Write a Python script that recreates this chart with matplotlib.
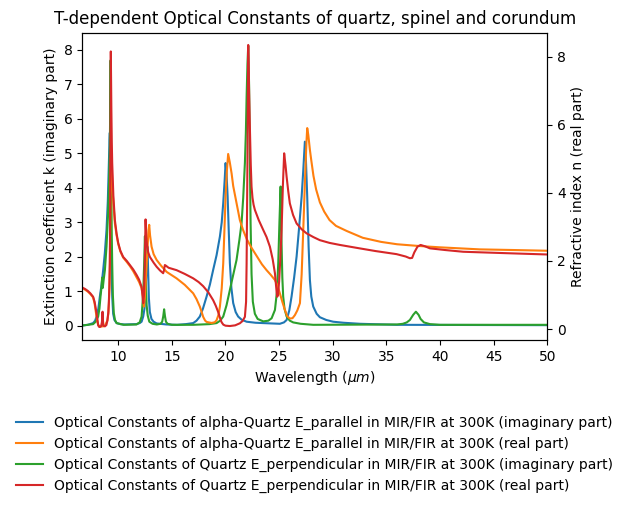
import numpy as np
import matplotlib
matplotlib.use('Agg')
import matplotlib.pyplot as plt

# alpha-Quartz E_parallel, imaginary part k
wl_k_par = [6.65, 7.17, 7.66, 7.85, 7.98, 8.15, 8.29, 8.45, 8.60, 8.75, 8.91, 9.03,
            9.13, 9.19, 9.22, 9.26, 9.30, 9.34, 9.38, 9.45, 9.53, 9.65, 9.85, 10.20,
            10.62, 11.71, 12.00, 12.18, 12.33, 12.45, 12.55, 12.65, 12.73, 12.79, 12.86,
            12.95, 13.10, 13.30, 13.58, 14.50, 15.50, 16.30, 16.99, 17.30, 17.61, 17.90,
            18.24, 18.55, 18.85, 19.17, 19.48, 19.65, 19.79, 19.92, 20.01, 20.10, 20.20,
            20.30, 20.41, 20.55, 20.72, 20.95, 21.18, 21.50, 21.97, 22.80, 23.52, 24.30,
            25.07, 25.45, 25.70, 25.95, 26.16, 26.40, 26.63, 26.85, 27.10, 27.25, 27.40,
            27.50, 27.62, 27.75, 27.87, 28.00, 28.18, 28.50, 28.80, 29.40, 30.04, 31.00,
            32.53, 35.95, 50.0]
k_par = [0.01, 0.03, 0.08, 0.15, 0.27, 0.50, 0.85, 1.20, 1.62, 2.10, 2.78, 3.60,
         4.72, 5.40, 5.60, 4.80, 3.20, 2.30, 1.60, 0.80, 0.35, 0.17, 0.08, 0.05,
         0.04, 0.05, 0.08, 0.12, 0.27, 0.50, 1.00, 1.80, 2.30, 1.60, 0.80,
         0.40, 0.20, 0.12, 0.07, 0.04, 0.03, 0.05, 0.08, 0.15, 0.27, 0.50,
         0.85, 1.20, 1.62, 2.05, 2.59, 3.00, 3.56, 4.20, 4.72, 4.40, 3.75,
         2.80, 1.82, 1.10, 0.66, 0.40, 0.27, 0.18, 0.12, 0.09, 0.08, 0.07,
         0.06, 0.10, 0.17, 0.45, 0.85, 1.40, 2.01, 2.80, 3.75, 4.50, 5.34,
         4.80, 3.75, 2.30, 1.33, 0.85, 0.56, 0.35, 0.25, 0.17, 0.12, 0.09,
         0.06, 0.03, 0.02]

# alpha-Quartz E_parallel, real part n
wl_n_par = [6.65, 6.90, 7.17, 7.40, 7.66, 7.80, 7.98, 8.13, 8.29, 8.60, 8.76, 8.99,
            9.08, 9.13, 9.18, 9.22, 9.27, 9.31, 9.36, 9.40, 9.44, 9.55, 9.69, 9.85,
            10.00, 10.20, 10.46, 10.80, 11.09, 11.40, 11.71, 11.95, 12.18, 12.30, 12.39,
            12.48, 12.60, 12.72, 12.82, 12.89, 12.97, 13.11, 13.30, 13.58, 14.00, 14.51,
            15.00, 15.44, 16.20, 16.99, 17.30, 17.61, 17.80, 17.92, 18.10, 18.24, 18.70,
            19.00, 19.17, 19.35, 19.48, 19.65, 19.79, 19.90, 20.01, 20.12, 20.25, 20.40,
            20.57, 20.72, 21.03, 21.34, 21.65, 21.97, 22.40, 22.90, 23.40, 23.83, 24.20,
            24.61, 24.85, 25.07, 25.30, 25.54, 25.75, 26.00, 26.25, 26.47, 26.70, 26.94,
            27.10, 27.25, 27.37, 27.47, 27.55, 27.62, 27.72, 27.87, 28.00, 28.20, 28.45,
            28.80, 29.20, 29.70, 30.30, 31.30, 32.80, 34.50, 36.00, 38.00, 40.00, 43.70,
            47.00, 50.0]
n_par = [1.20, 1.16, 1.10, 1.03, 0.93, 0.75, 0.36, 0.12, 0.08, 0.08, 0.10, 0.25,
         0.45, 0.75, 1.20, 1.90, 3.50, 5.00, 5.20, 4.80, 4.30, 3.70, 3.10, 2.75,
         2.50, 2.28, 2.10, 1.97, 1.85, 1.70, 1.52, 1.38, 1.20, 0.95, 0.66,
         0.90, 1.60, 2.30, 2.90, 3.06, 2.75, 2.42, 2.20, 2.03, 1.86, 1.68,
         1.58, 1.49, 1.30, 1.05, 0.88, 0.66, 0.48, 0.36, 0.25, 0.21, 0.18,
         0.20, 0.26, 0.42, 0.66, 1.20, 1.93, 2.90, 3.89, 4.60, 5.14, 4.90,
         4.57, 4.20, 3.70, 3.20, 2.90, 2.65, 2.40, 2.15, 1.90, 1.73, 1.60,
         1.44, 1.28, 1.05, 0.80, 0.56, 0.38, 0.31, 0.32, 0.41, 0.55, 0.76,
         1.60, 2.91, 4.00, 4.87, 5.50, 5.90, 5.70, 5.26, 4.95, 4.50, 4.10,
         3.72, 3.45, 3.20, 3.03, 2.88, 2.68, 2.56, 2.49, 2.44, 2.40, 2.34,
         2.32, 2.30]

# Quartz E_perpendicular, imaginary part k
wl_k_perp = [6.65, 7.66, 7.90, 8.13, 8.25, 8.35, 8.45, 8.50, 8.53, 8.56, 8.65, 8.76,
             8.91, 9.06, 9.15, 9.22, 9.26, 9.29, 9.32, 9.36, 9.40, 9.44, 9.50, 9.59,
             9.70, 9.85, 10.50, 11.70, 12.00, 12.18, 12.27, 12.35, 12.42, 12.49, 12.53,
             12.58, 12.65, 12.75, 12.90, 13.20, 13.60, 13.95, 14.10, 14.20, 14.28, 14.36,
             14.45, 14.60, 15.00, 17.00, 18.50, 19.17, 19.50, 19.79, 20.10, 20.41, 20.70,
             21.03, 21.30, 21.50, 21.65, 21.81, 21.90, 21.97, 22.05, 22.12, 22.20, 22.27,
             22.34, 22.43, 22.55, 22.74, 23.00, 23.52, 24.00, 24.30, 24.61, 24.80, 24.92,
             25.03, 25.14, 25.22, 25.30, 25.38, 25.50, 25.70, 26.00, 26.31, 27.00, 28.18,
             36.00, 36.54, 36.90, 37.19, 37.50, 37.75, 38.00, 38.19, 38.50, 39.06, 40.00,
             50.0]
k_perp = [0.01, 0.05, 0.12, 0.27, 0.50, 0.85, 1.14, 1.40, 1.38, 1.10, 1.35, 1.62,
          2.30, 3.27, 4.20, 5.20, 6.50, 7.70, 6.00, 4.00, 2.60, 1.82, 0.90, 0.37,
          0.17, 0.08, 0.03, 0.04, 0.10, 0.27, 0.66, 1.10, 1.80, 2.60, 2.00,
          1.20, 0.60, 0.30, 0.12, 0.06, 0.04, 0.06, 0.12, 0.28, 0.48, 0.28,
          0.12, 0.06, 0.03, 0.03, 0.05, 0.08, 0.15, 0.27, 0.60, 1.04, 1.45,
          1.91, 2.50, 2.98, 3.70, 4.72, 5.60, 6.65, 7.60, 8.12, 7.00, 5.00,
          3.00, 1.50, 0.70, 0.35, 0.20, 0.13, 0.15, 0.22, 0.46, 1.00, 1.82,
          3.00, 4.04, 2.50, 1.40, 0.85, 0.50, 0.27, 0.15, 0.10, 0.06, 0.03,
          0.04, 0.06, 0.10, 0.17, 0.32, 0.41, 0.32, 0.20, 0.10, 0.05, 0.03,
          0.03]

# Quartz E_perpendicular, real part n
wl_n_perp = [6.65, 6.90, 7.17, 7.40, 7.66, 7.80, 7.98, 8.05, 8.13, 8.20, 8.29, 8.40,
             8.48, 8.54, 8.58, 8.62, 8.76, 8.90, 8.99, 9.08, 9.13, 9.18, 9.22, 9.26,
             9.31, 9.36, 9.40, 9.44, 9.55, 9.69, 9.85, 10.00, 10.20, 10.46, 10.80,
             11.09, 11.40, 11.71, 11.95, 12.18, 12.28, 12.33, 12.40, 12.47, 12.55, 12.62,
             12.70, 12.80, 12.95, 13.30, 13.58, 13.90, 14.19, 14.25, 14.35, 14.45, 14.70,
             15.44, 16.20, 16.99, 17.50, 17.92, 18.40, 18.85, 19.10, 19.32, 19.50, 19.64,
             19.80, 20.00, 20.41, 20.90, 21.34, 21.60, 21.81, 21.92, 21.97, 22.05, 22.12,
             22.20, 22.28, 22.36, 22.43, 22.52, 22.62, 22.74, 23.10, 23.52, 23.83, 24.14,
             24.40, 24.61, 24.75, 24.82, 24.90, 25.00, 25.10, 25.23, 25.35, 25.47, 25.60,
             25.70, 25.85, 26.00, 26.30, 26.63, 27.10, 27.56, 28.20, 28.80, 29.70, 30.67,
             32.50, 34.00, 35.95, 36.80, 37.19, 37.40, 37.60, 37.90, 38.19, 38.60, 39.06,
             40.50, 42.16, 46.00, 50.0]
n_perp = [1.22, 1.18, 1.12, 1.05, 0.95, 0.80, 0.47, 0.30, 0.12, 0.07, 0.06, 0.08,
          0.20, 0.51, 0.25, 0.10, 0.08, 0.12, 0.25, 0.50, 0.80, 1.30, 1.94, 4.00,
          8.15, 6.50, 5.50, 4.88, 3.90, 3.20, 2.80, 2.53, 2.30, 2.12, 2.00,
          1.88, 1.75, 1.59, 1.45, 1.24, 0.95, 0.76, 1.00, 1.80, 3.22, 2.70,
          2.42, 2.25, 2.12, 1.95, 1.83, 1.72, 1.64, 1.70, 1.88, 1.86, 1.80,
          1.73, 1.62, 1.49, 1.38, 1.26, 1.08, 0.85, 0.68, 0.50, 0.32, 0.20,
          0.13, 0.10, 0.09, 0.11, 0.17, 0.24, 0.36, 0.80, 1.93, 5.00, 8.34,
          7.00, 5.85, 4.80, 4.18, 3.85, 3.65, 3.50, 3.20, 2.91, 2.70, 2.42,
          2.05, 1.64, 1.15, 0.95, 1.00, 1.40, 2.00, 2.91, 4.20, 5.16, 4.80,
          4.47, 4.05, 3.69, 3.35, 3.10, 2.93, 2.81, 2.70, 2.61, 2.53, 2.47,
          2.37, 2.29, 2.20, 2.13, 2.08, 2.09, 2.25, 2.42, 2.47, 2.43, 2.37,
          2.32, 2.27, 2.23, 2.19]

labels = [
    'Optical Constants of alpha-Quartz E_parallel in MIR/FIR at 300K (imaginary part)',
    'Optical Constants of alpha-Quartz E_parallel in MIR/FIR at 300K (real part)',
    'Optical Constants of Quartz E_perpendicular in MIR/FIR at 300K (imaginary part)',
    'Optical Constants of Quartz E_perpendicular in MIR/FIR at 300K (real part)',
]


def plot_constants():
    fig = plt.figure(figsize=(6.29, 5.07), dpi=100)
    ax = fig.add_axes([0.1308, 0.3294, 0.7393, 0.6061])
    ax2 = ax.twinx()

    l1, = ax.plot(wl_k_par, k_par, color='C0', lw=1.5)
    l3, = ax.plot(wl_k_perp, k_perp, color='C2', lw=1.5)
    l2, = ax2.plot(wl_n_par, n_par, color='C1', lw=1.5)
    l4, = ax2.plot(wl_n_perp, n_perp, color='C3', lw=1.5)

    ax.set_xlim(6.65, 50)
    ax.set_ylim(-0.41, 8.50)
    ax2.set_ylim(-0.32, 8.70)
    ax2.set_yticks([0, 2, 4, 6, 8])

    ax.set_title('T-dependent Optical Constants of quartz, spinel and corundum')
    ax.set_xlabel(r'Wavelength ($\mu m$)')
    ax.set_ylabel('Extinction coefficient k (imaginary part)')
    ax2.set_ylabel('Refractive index n (real part)')

    fig.legend([l1, l2, l3, l4], labels, loc='upper center',
               bbox_to_anchor=(0.5, 0.205), frameon=False)
    fig.savefig('out.png', dpi=100)


def main():
    plot_constants()


if __name__ == '__main__':
    main()
